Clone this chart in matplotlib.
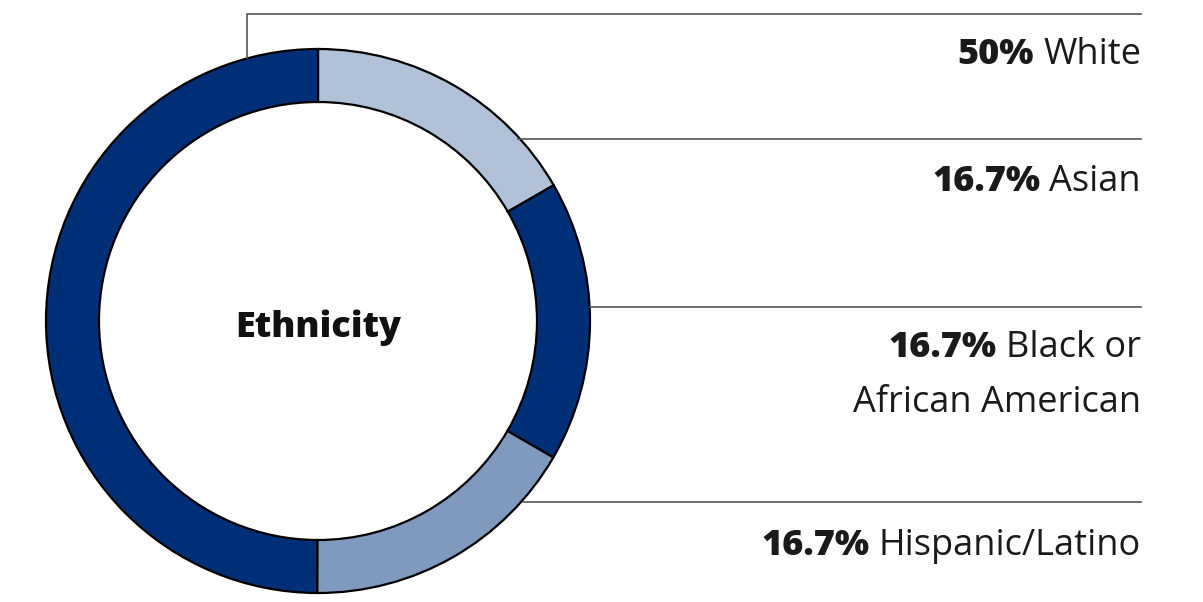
import matplotlib
matplotlib.use("Agg")
import matplotlib.pyplot as plt

# data
groups = ["Asian", "Black or\nAfrican American", "Hispanic/Latino", "White"]
shares = [16.7, 16.7, 16.7, 50]
colors = ["#b0c1d8", "#002f78", "#7f9abe", "#002f78"]

# label order top to bottom on the right
label_pct = ["50%", "16.7%", "16.7%", "16.7%"]
label_txt = ["White", "Asian", "Black or\nAfrican American", "Hispanic/Latino"]

W, H = 1203, 602
FONT = "Open Sans"
fig = plt.figure(figsize=(W / 100, H / 100), dpi=100)
ax = fig.add_axes([0, 0, 1, 1])

cx, cy, r = 318, H - 321, 272
ax.pie(shares, colors=colors, startangle=90, counterclock=False,
       center=(cx, cy), radius=r, frame=True,
       wedgeprops=dict(width=53, edgecolor="black", linewidth=1.6))
ax.set_xlim(0, W)
ax.set_ylim(0, H)
ax.set_aspect("auto")
ax.axis("off")

ax.text(cx, H - 328, "Ethnicity", ha="center", va="center",
        fontsize=26, fontweight="heavy", family=FONT, color="#111111")

# leader lines
lc = "#555555"
ax.plot([247, 247, 1141], [H - 58, H - 14, H - 14], color=lc, lw=1.2)
ax.plot([518, 1141], [H - 139, H - 139], color=lc, lw=1.2)
ax.plot([590, 1141], [H - 307, H - 307], color=lc, lw=1.2)
ax.plot([523, 1141], [H - 502, H - 502], color=lc, lw=1.2)

fig.canvas.draw()
renderer = fig.canvas.get_renderer()

ys = [55, 182, 348, 546]
for i, y in enumerate(ys):
    parts = label_txt[i].split("\n")
    t = ax.text(1141, H - y, parts[0], ha="right", va="center", fontsize=26,
                family=FONT, color="#1a1a1a")
    bb = t.get_window_extent(renderer)
    x0 = ax.transData.inverted().transform((bb.x0, 0))[0]
    ax.text(x0 - 9, H - y, label_pct[i], ha="right", va="center", fontsize=26,
            fontweight="heavy", family=FONT, color="#1a1a1a")
    if len(parts) > 1:
        ax.text(1141, H - y - 55, parts[1], ha="right", va="center",
                fontsize=26, family=FONT, color="#1a1a1a")

fig.savefig("out.png", dpi=100, facecolor="white")
